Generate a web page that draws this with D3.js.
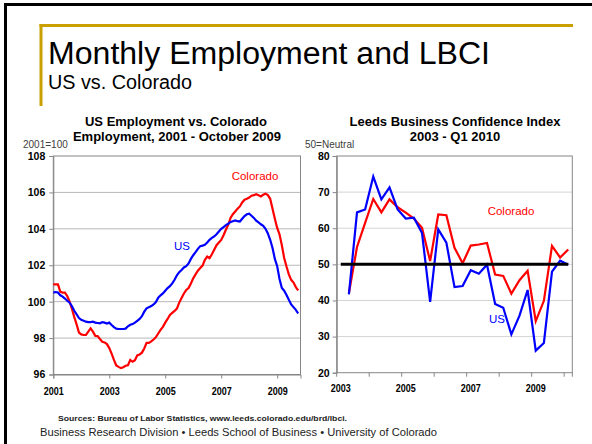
<!DOCTYPE html>
<html><head><meta charset="utf-8">
<script src="https://cdn.jsdelivr.net/npm/d3@7"></script>
<style>body{margin:0;background:#fff}svg{display:block}</style>
</head><body><svg id="c" width="592" height="444"></svg>
<script>
// ---------- DATA ----------
// Monthly employment index (2001=100), Jan 2001 .. Oct 2009
const coloradoEmployment = [
  100.95,100.95,100.95,100.55,100.5,100.5,100.3,100.0,99.6,99.15,98.75,98.3,
  98.2,98.17,98.17,98.35,98.53,98.35,98.12,98.11,97.95,97.8,97.76,97.67,
  97.45,97.15,96.8,96.5,96.42,96.35,96.4,96.48,96.51,96.8,96.7,96.78,
  97.05,97.1,97.2,97.43,97.74,97.74,97.82,97.92,98.05,98.25,98.45,98.62,
  98.85,99.05,99.27,99.38,99.49,99.62,99.95,100.2,100.45,100.64,100.75,101.0,
  101.28,101.5,101.7,101.85,101.98,102.3,102.48,102.39,102.6,102.85,103.1,103.25,
  103.39,103.65,103.95,104.22,104.6,104.8,104.95,105.1,105.23,105.45,105.6,105.65,
  105.72,105.82,105.85,105.9,105.84,105.78,105.87,105.93,105.85,105.65,105.1,104.55,
  104.05,103.7,103.1,102.4,101.93,101.5,101.2,101.05,100.8,100.62
];
const usEmployment = [
  100.5,100.53,100.5,100.35,100.28,100.17,100.05,99.94,99.75,99.5,99.3,99.1,
  99.0,98.95,98.9,98.88,98.88,98.9,98.85,98.83,98.81,98.88,98.85,98.8,
  98.85,98.72,98.6,98.52,98.5,98.5,98.5,98.52,98.65,98.73,98.77,98.85,
  98.95,99.05,99.2,99.45,99.63,99.7,99.76,99.85,99.98,100.22,100.35,100.45,
  100.6,100.75,100.85,101.0,101.2,101.45,101.62,101.74,101.88,101.95,102.1,102.35,
  102.55,102.72,102.9,103.05,103.08,103.12,103.25,103.4,103.5,103.58,103.7,103.85,
  104.0,104.1,104.2,104.28,104.38,104.42,104.46,104.42,104.4,104.55,104.7,104.8,
  104.83,104.72,104.6,104.45,104.35,104.25,104.17,104.0,103.75,103.4,102.95,102.35,
  101.95,101.25,100.75,100.6,100.37,100.1,99.85,99.7,99.55,99.35
];
const employmentStartYear = 2001;
const employmentYearLabels = [2001, 2003, 2005, 2007, 2009];
const employmentYTicks = [96, 98, 100, 102, 104, 106, 108];

// Leeds Business Confidence Index, quarterly
const lbciQuarters = [
  "2003 Q1","2003 Q2","2003 Q3","2003 Q4","2004 Q1","2004 Q2","2004 Q3","2004 Q4",
  "2005 Q1","2005 Q2","2005 Q3","2005 Q4","2006 Q1","2006 Q2","2006 Q3","2006 Q4",
  "2007 Q1","2007 Q2","2007 Q3","2007 Q4","2008 Q1","2008 Q2","2008 Q3","2008 Q4",
  "2009 Q1","2009 Q2","2009 Q3","2009 Q4","2010 Q1"
];
const lbciColorado = [null,
  42.0,54.8,61.5,68.1,64.4,68.0,65.8,64.3,62.7,60.1,50.9,63.8,63.6,54.6,50.3,
  55.2,55.5,55.9,47.2,46.8,41.9,45.6,48.2,34.3,39.9,55.1,51.9,54.1];
const lbciUS = [null,
  41.7,64.4,65.2,74.3,68.0,71.3,65.2,62.7,62.9,58.7,39.6,59.7,56.0,43.7,44.0,
  48.4,47.4,49.9,39.0,38.0,30.6,35.8,42.9,26.1,28.2,48.0,51.0,49.9];
const lbciNeutral = lbciQuarters.map(() => 50);
const lbciYearLabels = ["2003", "2005", "2007", "2009"];
const lbciYTicks = [20, 30, 40, 50, 60, 70, 80];

// ---------- DRAW ----------
const svg = d3.select("#c");
const FONT = "'Liberation Sans', Arial, sans-serif";
const RED = "#ff0000", BLUE = "#0000ff", AXIS = "#868686";

// page frame
svg.append("rect").attr("x",0).attr("y",0).attr("width",592).attr("height",444).attr("fill","#fff");
svg.append("line").attr("x1",5.5).attr("x2",5.5).attr("y1",3).attr("y2",444).attr("stroke","#000").attr("stroke-width",3);
svg.append("line").attr("x1",4).attr("x2",592).attr("y1",4.5).attr("y2",4.5).attr("stroke","#000").attr("stroke-width",3);
// gold accent
svg.append("line").attr("x1",39.5).attr("x2",573).attr("y1",25.5).attr("y2",25.5).attr("stroke","#c9a000").attr("stroke-width",3);
svg.append("line").attr("x1",41).attr("x2",41).attr("y1",24).attr("y2",106).attr("stroke","#c9a000").attr("stroke-width",3);

svg.append("text").attr("x",48).attr("y",64).attr("font-family",FONT).attr("font-size",31)
  .attr("textLength",442).attr("lengthAdjust","spacingAndGlyphs").text("Monthly Employment and LBCI");
svg.append("text").attr("x",48).attr("y",89).attr("font-family",FONT).attr("font-size",20)
  .attr("textLength",144).attr("lengthAdjust","spacingAndGlyphs").text("US vs. Colorado");

// ===== Left chart =====
const L = {left:53.3, right:300.5, top:156, bottom:374.5};
const xL = d3.scaleLinear().domain([0, 106]).range([L.left, L.right]);
const yL = d3.scaleLinear().domain([96, 108]).range([L.bottom, L.top]);

const gL = svg.append("g");
gL.selectAll("line.grid").data(employmentYTicks.slice(1, -1)).join("line")
  .attr("x1",L.left).attr("x2",L.right).attr("y1",d=>yL(d)).attr("y2",d=>yL(d))
  .attr("stroke","#b8b8b8").attr("stroke-width",1);
gL.append("rect").attr("x",L.left).attr("y",L.top).attr("width",L.right-L.left).attr("height",L.bottom-L.top)
  .attr("fill","none").attr("stroke",AXIS).attr("stroke-width",1);

const axL = gL.append("g").attr("transform",`translate(${L.left},0)`)
  .call(d3.axisLeft(yL).tickValues(employmentYTicks).tickSize(4).tickFormat(d3.format("d")));
axL.select(".domain").attr("stroke",AXIS);
axL.selectAll(".tick line").attr("stroke",AXIS);
axL.selectAll(".tick text").attr("font-family",FONT).attr("font-size",10.5).attr("font-weight","bold")
  .attr("fill","#000").attr("x",-8);

const axLB = gL.append("g").attr("transform",`translate(0,${L.bottom})`)
  .call(d3.axisBottom(xL).tickValues(employmentYearLabels.map(y => (y-employmentStartYear)*12))
    .tickSize(4).tickFormat(d => String(employmentStartYear + d/12)));
axLB.select(".domain").attr("stroke",AXIS);
axLB.selectAll(".tick line").attr("stroke",AXIS);
axLB.selectAll(".tick text").attr("font-family",FONT).attr("font-size",11).attr("font-weight","bold")
  .attr("fill","#000").attr("y",13).attr("textLength",20).attr("lengthAdjust","spacingAndGlyphs");

const lineL = d3.line().x((d,i)=>xL(i)).y(d=>yL(d));
gL.append("path").datum(coloradoEmployment).attr("d",lineL).attr("fill","none").attr("stroke",RED).attr("stroke-width",2.2);
gL.append("path").datum(usEmployment).attr("d",lineL).attr("fill","none").attr("stroke",BLUE).attr("stroke-width",2.2);

gL.append("text").attr("x",176).attr("y",126).attr("text-anchor","middle").attr("font-family",FONT)
  .attr("font-size",13).attr("font-weight","bold").text("US Employment vs. Colorado");
gL.append("text").attr("x",177).attr("y",141).attr("text-anchor","middle").attr("font-family",FONT)
  .attr("font-size",13).attr("font-weight","bold").text("Employment, 2001 - October 2009");
gL.append("text").attr("x",23).attr("y",148).attr("font-family",FONT).attr("font-size",10)
  .attr("fill","#404040").text("2001=100");
gL.append("text").attr("x",255).attr("y",180).attr("text-anchor","middle").attr("font-family",FONT)
  .attr("font-size",11.5).attr("fill",RED).text("Colorado");
gL.append("text").attr("x",182).attr("y",250).attr("text-anchor","middle").attr("font-family",FONT)
  .attr("font-size",11.5).attr("fill",BLUE).text("US");

// ===== Right chart =====
const R = {left:336.7, right:572.3, top:156, bottom:372.7};
const xR = d3.scaleBand().domain(lbciQuarters).range([R.left, R.right]).padding(0);
const cx = q => xR(q) + xR.bandwidth()/2;
const yR = d3.scaleLinear().domain([20, 80]).range([R.bottom, R.top]);

const gR = svg.append("g");
gR.selectAll("line.grid").data(lbciYTicks.slice(1, -1)).join("line")
  .attr("x1",R.left).attr("x2",R.right).attr("y1",d=>yR(d)).attr("y2",d=>yR(d))
  .attr("stroke","#d4d4d4").attr("stroke-width",1);
gR.append("rect").attr("x",R.left).attr("y",R.top).attr("width",R.right-R.left).attr("height",R.bottom-R.top)
  .attr("fill","none").attr("stroke",AXIS).attr("stroke-width",1);

const axR = gR.append("g").attr("transform",`translate(${R.left},0)`)
  .call(d3.axisLeft(yR).tickValues(lbciYTicks).tickSize(4).tickFormat(d3.format("d")));
axR.select(".domain").attr("stroke",AXIS);
axR.selectAll(".tick line").attr("stroke",AXIS);
axR.selectAll(".tick text").attr("font-family",FONT).attr("font-size",10.5).attr("font-weight","bold")
  .attr("fill","#000").attr("x",-7);

// category tick marks every 4 quarters (at category boundaries)
const tickBounds = lbciQuarters.filter((q,i)=>i%4===0).map(q=>xR(q)).concat([R.right]);
gR.selectAll("line.xt").data(tickBounds).join("line")
  .attr("x1",d=>d).attr("x2",d=>d).attr("y1",R.bottom).attr("y2",R.bottom+4).attr("stroke",AXIS);
gR.selectAll("text.xl").data(lbciYearLabels).join("text")
  .attr("x",d=>cx(d+" Q1")).attr("y",392)
  .attr("text-anchor","middle").attr("font-family",FONT).attr("font-size",11).attr("font-weight","bold")
  .attr("textLength",20).attr("lengthAdjust","spacingAndGlyphs").text(d=>d);

const lineR = arr => d3.line().defined(d=>d!=null).x((d,i)=>cx(lbciQuarters[i])).y(d=>yR(d))(arr);
gR.append("path").attr("d",lineR(lbciColorado)).attr("fill","none").attr("stroke",RED).attr("stroke-width",2.2);
gR.append("path").attr("d",lineR(lbciUS)).attr("fill","none").attr("stroke",BLUE).attr("stroke-width",2.2);
gR.append("path").attr("d",lineR(lbciNeutral)).attr("fill","none").attr("stroke","#000").attr("stroke-width",3);

gR.append("text").attr("x",455).attr("y",126).attr("text-anchor","middle").attr("font-family",FONT)
  .attr("font-size",13).attr("font-weight","bold").text("Leeds Business Confidence Index");
gR.append("text").attr("x",455).attr("y",141).attr("text-anchor","middle").attr("font-family",FONT)
  .attr("font-size",13).attr("font-weight","bold").text("2003 - Q1 2010");
gR.append("text").attr("x",305).attr("y",148).attr("font-family",FONT).attr("font-size",10)
  .attr("fill","#404040").text("50=Neutral");
gR.append("text").attr("x",511).attr("y",215).attr("text-anchor","middle").attr("font-family",FONT)
  .attr("font-size",11.5).attr("fill",RED).text("Colorado");
gR.append("text").attr("x",497).attr("y",323).attr("text-anchor","middle").attr("font-family",FONT)
  .attr("font-size",11.5).attr("fill",BLUE).text("US");

// footer
svg.append("text").attr("x",58).attr("y",421).attr("font-family",FONT).attr("font-size",7.5).attr("font-weight","bold")
  .attr("fill","#222").attr("textLength",289).attr("lengthAdjust","spacingAndGlyphs")
  .text("Sources: Bureau of Labor Statistics, www.leeds.colorado.edu/brd/lbci.");
svg.append("text").attr("x",40).attr("y",436).attr("font-family",FONT).attr("font-size",10.5)
  .attr("fill","#222").attr("textLength",397).attr("lengthAdjust","spacingAndGlyphs")
  .text("Business Research Division \u2022 Leeds School of Business \u2022 University of Colorado");
</script>
</body></html>
